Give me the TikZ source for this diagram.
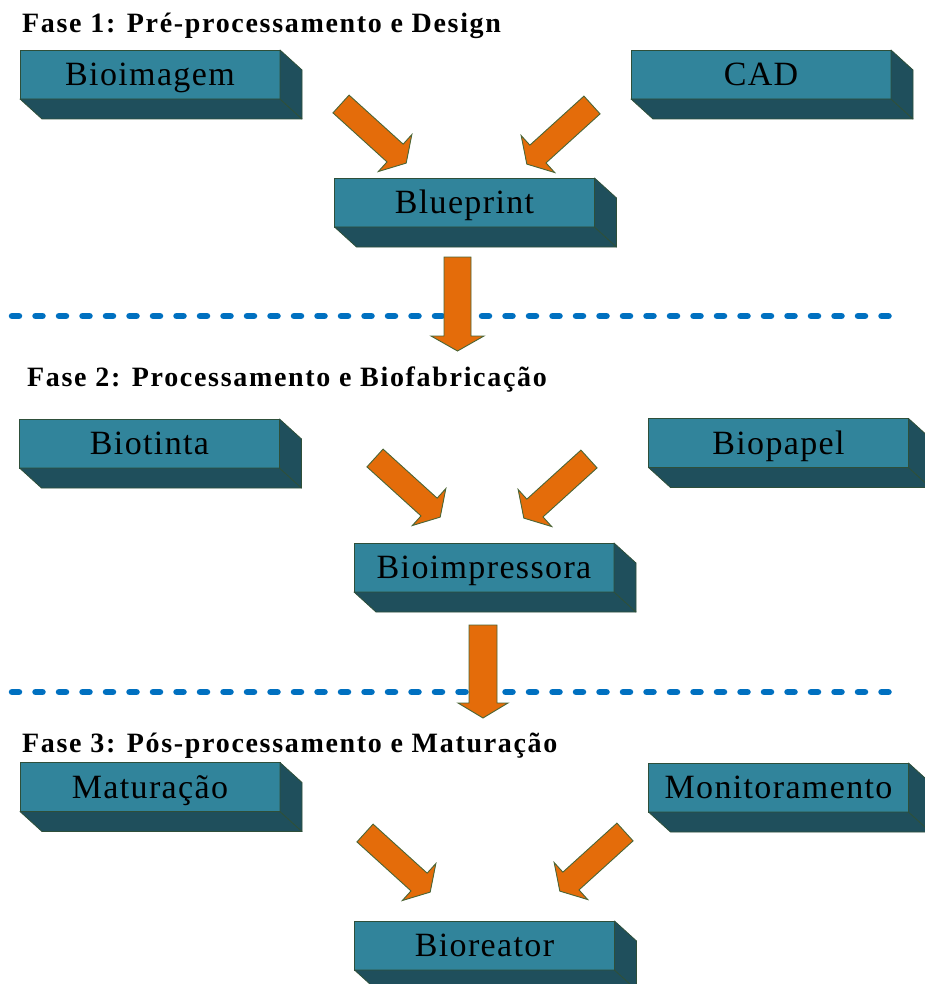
\documentclass[tikz,border=0pt]{standalone}
\usepackage{fontspec}
\setmainfont{Liberation Serif}
\newfontfamily\labelfont[LetterSpace=4]{Liberation Serif}
\newfontfamily\titlefont[LetterSpace=6]{Liberation Serif}
\usetikzlibrary{calc}

\definecolor{faceteal}{HTML}{31849B}
\definecolor{sideteal}{HTML}{1F4F5C}
\definecolor{edgegreen}{HTML}{2E4F3A}
\definecolor{arroworange}{HTML}{E46C0A}
\definecolor{arrowedge}{HTML}{4A6536}
\definecolor{sepblue}{HTML}{0070C0}

\tikzset{
  stagebox/.style={draw=edgegreen, line width=0.8pt, fill=faceteal,
    minimum width=260pt, minimum height=49pt, inner sep=0pt, outer sep=0pt,
    text height=22.5pt, text depth=0pt,
    font=\labelfont\fontsize{34}{40}\selectfont, text=black},
  boxside/.style={draw=edgegreen, line width=0.8pt, fill=sideteal, line join=round},
  arrowbody/.style={draw=arrowedge, line width=0.9pt, fill=arroworange, line join=miter},
  phase/.style={anchor=base west, inner sep=0pt,
    font=\titlefont\bfseries\fontsize{28}{33}\selectfont},
  separator/.style={draw=sepblue, line width=6.5pt, line cap=round,
    dash pattern=on 7pt off 16.5pt},
}

% a 3-D bar: front face node plus its bottom and right faces
\newcommand\stage[3]{%
  \node[stagebox] (#1) at (#2) {#3};
  \filldraw[boxside] (#1.south west) -- (#1.south east)
    -- ([shift={(22pt,-20pt)}]#1.south east) -- ([shift={(22pt,-20pt)}]#1.south west) -- cycle;
  \filldraw[boxside] (#1.north east) -- ([shift={(22pt,-20pt)}]#1.north east)
    -- ([shift={(22pt,-20pt)}]#1.south east) -- (#1.south east) -- cycle;
}

% block arrow: tail point, heading, length, shaft half-width, head half-width
\newcommand\blockarrow[5]{%
  \begin{scope}[shift={(#1)}, rotate=#2, x=1pt, y=1pt]
    \draw[arrowbody] (0,-#4) -- (#3-15,-#4) -- (#3-15,-#5) -- (#3,0)
      -- (#3-15,#5) -- (#3-15,#4) -- (0,#4) -- cycle;
  \end{scope}
}

\begin{document}
\begin{tikzpicture}[x=1pt, y=1pt]
  \useasboundingbox (0,0) rectangle (925,-984);
  \clip (0,0) rectangle (925,-984);

  % phase headings
  \node[phase] (fase1) at (22,-33) {Fase 1: Pré-processamento e Design};
  \node[phase] (fase2) at (27,-386) {Fase 2: Processamento e Biofabricação};
  \node[phase] (fase3) at (22,-752) {Fase 3: Pós-processamento e Maturação};

  % separators between phases
  \coordinate (sep1l) at (12,-316);  \coordinate (sep1r) at (893,-316);
  \coordinate (sep2l) at (12,-692);  \coordinate (sep2r) at (893,-692);
  \draw[separator] (sep1l) -- (sep1r);
  \draw[separator] (sep2l) -- (sep2r);

  % phase 1
  \stage{bioimagem}{150,-74.5}{Bioimagem}
  \stage{cad}{761,-74.5}{CAD}
  \stage{blueprint}{464.5,-202.5}{Blueprint}

  % phase 2
  \stage{biotinta}{149.5,-443.5}{Biotinta}
  \stage{biopapel}{778.5,-443}{Biopapel}
  \stage{bioimpressora}{484,-567.5}{Bioimpressora}

  % phase 3
  \stage{maturacao}{150,-787}{Maturação}
  \stage{monitor}{778.5,-787.5}{Monitoramento}
  \stage{bioreator}{484.5,-945.5}{Bioreator}

  % arrow tails
  \coordinate (a1l) at (341,-104);
  \coordinate (a1r) at (592,-105);
  \coordinate (a1d) at (457.5,-257);
  \coordinate (a2l) at (375,-458);
  \coordinate (a2r) at (589,-459);
  \coordinate (a2d) at (483,-625);
  \coordinate (a3l) at (365,-833);
  \coordinate (a3r) at (625,-832);

  \blockarrow{a1l}{-42.2}{88}{12}{25}
  \blockarrow{a1r}{-137.8}{88}{12}{25}
  \blockarrow{a1d}{-90}{94}{13.5}{26.5}
  \blockarrow{a2l}{-42.2}{88}{12}{25}
  \blockarrow{a2r}{-137.8}{88}{12}{25}
  \blockarrow{a2d}{-90}{93}{14}{25}
  \blockarrow{a3l}{-42.2}{88}{12}{25}
  \blockarrow{a3r}{-137.8}{88}{12}{25}
\end{tikzpicture}
\end{document}
